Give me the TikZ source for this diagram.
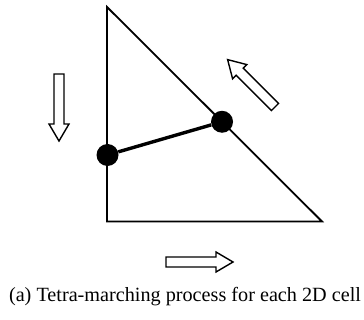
\documentclass[tikz,border=0pt]{standalone}
\usepackage{fontspec}
\setmainfont{Liberation Serif}
\usepackage{tikz}
\usetikzlibrary{calc}

\tikzset{
  blockarr/.pic={\draw[line width=1.4pt,line join=miter]
    (0,-5) -- (50,-5) -- (50,-10) -- (67,0) -- (50,10) -- (50,5) -- (0,5) -- cycle;}}

\begin{document}
\begin{tikzpicture}[x=1pt,y=-1pt,
  edge/.style={line width=1.8pt,line join=miter},
  dot/.style={circle,fill=black,inner sep=0pt,minimum size=22pt},
  cut/.style={line width=3.4pt}]
\useasboundingbox (0,0) rectangle (364,320);
% cell
\coordinate (top) at (107,7);
\coordinate (bl) at (107,221.5);
\coordinate (br) at (322,221.5);
\draw[edge] (top) -- (bl) -- (br) -- cycle;
% crossing points
\node[dot] (p1) at (107.5,155) {};
\node[dot] (p2) at ($(top)!0.535!(br)$) {};
\draw[cut] (p1) -- (p2);
% marching directions
\pic at (59,74) [rotate=-90] {blockarr};
\pic at (166,262) {blockarr};
\pic at (275,107) [rotate=135] {blockarr};
\node[font=\fontsize{20.2}{24}\selectfont,inner sep=0pt] (cap) at (185,297) {(a) Tetra-marching process for each 2D cell};
\end{tikzpicture}
\end{document}
